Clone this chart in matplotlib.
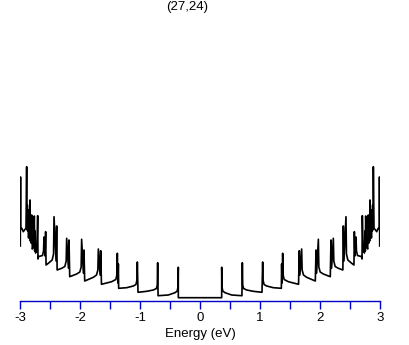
import matplotlib
matplotlib.use("Agg")
import matplotlib.pyplot as plt
import numpy as np

title = "(27,24)"
xlabel = "Energy (eV)"
xticks_major = [-3, -2, -1, 0, 1, 2, 3]
xticks_minor = [-2.5, -1.5, -0.5, 0.5, 1.5, 2.5]

# Density of states, positive-energy half (eV, arbitrary units);
# the spectrum is mirror-symmetric about E = 0.
energy_pos = [0.0, 0.362, 0.362, 0.368, 0.380, 0.417, 0.529, 0.700,
              0.707, 0.713, 0.728, 0.779, 0.890, 1.035,
              1.046, 1.052, 1.070, 1.113, 1.224, 1.358,
              1.363, 1.370, 1.380, 1.388, 1.405, 1.475, 1.645,
              1.658, 1.668, 1.697, 1.705, 1.728, 1.780, 1.925,
              1.937, 1.947, 1.976, 1.984, 2.006, 2.059, 2.175,
              2.187, 2.197, 2.226, 2.234, 2.256, 2.310, 2.385,
              2.393, 2.403, 2.437, 2.445, 2.468, 2.532, 2.570,
              2.577, 2.587, 2.604, 2.612, 2.630, 2.700,
              2.705, 2.710, 2.722, 2.745, 2.752, 2.760, 2.766, 2.780, 2.800,
              2.810, 2.820, 2.826, 2.832, 2.838, 2.850, 2.856, 2.862, 2.868,
              2.878, 2.882, 2.888, 2.894, 2.905, 2.950, 2.975, 2.994, 2.996, 3.0]
dos_pos = [3.3, 3.3, 33.7, 14.0, 10.0, 8.3, 6.0, 5.3,
           38.3, 16.0, 12.5, 11.0, 9.7, 8.7,
           39.0, 21.0, 16.5, 15.0, 13.3, 12.7,
           37.0, 18.0, 47.7, 26.0, 21.5, 19.3, 16.7,
           50.3, 26.0, 52.0, 31.0, 26.0, 23.7, 20.0,
           51.0, 28.0, 61.7, 34.0, 29.0, 27.0, 24.3,
           61.0, 33.0, 62.7, 40.0, 34.5, 32.7, 31.0,
           75.0, 40.0, 84.3, 47.0, 41.0, 37.7, 36.0,
           69.3, 45.0, 64.0, 50.0, 45.5, 44.3,
           42.0, 85.3, 51.0, 48.0, 70.0, 50.0, 85.0, 54.3, 52.0,
           86.0, 58.0, 80.0, 60.0, 101.0, 66.0, 88.0, 63.0, 91.0,
           70.0, 96.0, 72.0, 134.3, 73.0, 69.3, 72.7, 72.0, 124.0, 55.0]

e_pos = np.array(energy_pos)
d_pos = np.array(dos_pos)
energy = np.concatenate([-e_pos[::-1], e_pos[1:]])
dos = np.concatenate([d_pos[::-1], d_pos[1:]])

W, H = 409, 345
fig = plt.figure(figsize=(W / 100, H / 100), dpi=100)
fam = ["Liberation Sans Narrow", "Liberation Sans", "DejaVu Sans"]
ax_l, ax_r = 20.3, 379.7
ax_b, ax_t = 301, 20
ax = fig.add_axes([ax_l / W, 1 - ax_b / H, (ax_r - ax_l) / W, (ax_b - ax_t) / H])
ax.plot(energy, dos, color="black", lw=1.2)
ax.set_xlim(-3, 3)
ax.set_ylim(0, ax_b - ax_t)

for s in ["top", "right", "left"]:
    ax.spines[s].set_visible(False)
ax.spines["bottom"].set_color("#0000c8")
ax.spines["bottom"].set_linewidth(1.0)
ax.set_yticks([])
ax.set_xticks(xticks_major)
ax.set_xticks(xticks_minor, minor=True)
ax.set_xticklabels([str(v) for v in xticks_major], family=fam, fontsize=9.5)
ax.tick_params(axis="x", which="both", direction="out", length=6, width=1.0,
               color="#0000c8", pad=2)
ax.set_xlabel(xlabel, family=fam, fontsize=9.5, labelpad=3)
fig.text(187 / W, 1 - 7 / H, title, family=fam, fontsize=9.5, ha="center", va="center")
fig.savefig("out.png", dpi=100)
